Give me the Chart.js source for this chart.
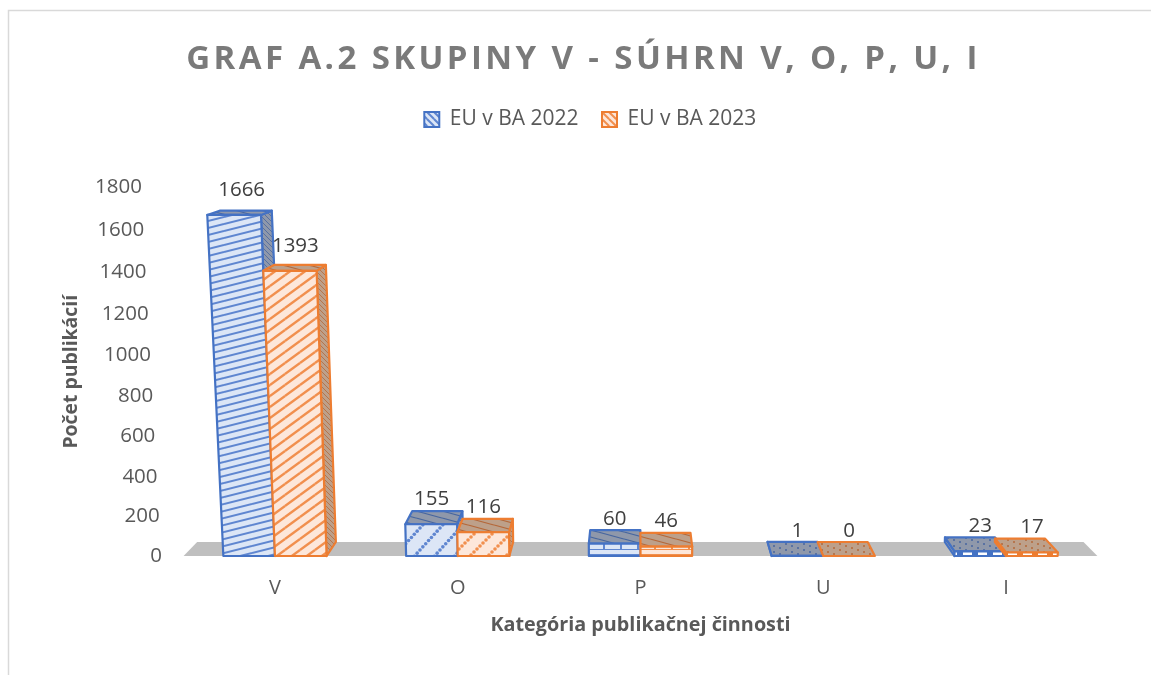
<!DOCTYPE html>
<html lang="sk">
<head>
<meta charset="utf-8">
<title>Graf A.2</title>
<script src="https://cdn.jsdelivr.net/npm/chart.js@4/dist/chart.umd.min.js"></script>
<style>html,body{margin:0;padding:0;background:#fff}canvas{display:block}</style>
</head>
<body>
<canvas id="c" width="1151" height="675"></canvas>
<script>
const categories = ['V', 'O', 'P', 'U', 'I'];
const values2022 = [1666, 155, 60, 1, 23];
const values2023 = [1393, 116, 46, 0, 17];
const seriesNames = ['EU v BA 2022', 'EU v BA 2023'];
const chartTitle = 'GRAF A.2 SKUPINY V - SÚHRN V, O, P, U, I';
const yAxisTitle = 'Počet publikácií';
const xAxisTitle = 'Kategória publikačnej činnosti';

const FONT = '"Open Sans", sans-serif';
const BLUE = '#4472C4', ORANGE = '#ED7D31';
const pal = [
  {line: BLUE, bg: '#dce6f6', fg: '#5f86d0', dark: '#8f98aa', darkFg: '#47669f'},
  {line: ORANGE, bg: '#fde7da', fg: '#f18f4e', dark: '#bda08a', darkFg: '#b5683a'}
];

function tile(w, h, bg, paint) {
  const t = document.createElement('canvas');
  t.width = w; t.height = h;
  const g = t.getContext('2d');
  g.fillStyle = bg; g.fillRect(0, 0, w, h);
  paint(g, w, h);
  return document.createElement('canvas').getContext('2d').createPattern(t, 'repeat');
}
function lines(w, h, bg, fg, lw, down) {
  return tile(w, h, bg, g => {
    g.strokeStyle = fg; g.lineWidth = lw;
    for (const ox of [-w, 0, w]) for (const oy of [-h, 0, h]) {
      g.beginPath();
      g.moveTo(ox, oy + (down ? 0 : h));
      g.lineTo(ox + w, oy + (down ? h : 0));
      g.stroke();
    }
  });
}
function dots(w, h, bg, fg, n, r, down) {
  return tile(w, h, bg, g => {
    g.fillStyle = fg;
    for (const ox of [-w, 0, w]) for (const oy of [-h, 0, h]) for (let i = 0; i < n; i++) {
      const f = i / n;
      g.beginPath();
      g.arc(ox + w * f, oy + (down ? h * f : h * (1 - f)), r, 0, 7);
      g.fill();
    }
  });
}
function brick(bg, fg) {
  return tile(17, 12, bg, g => {
    g.fillStyle = fg;
    g.fillRect(0, 2, 17, 2);
    g.fillRect(8, 4, 2, 5);
    g.fillRect(0, 9, 17, 1);
  });
}
function dash(bg, fg) {
  return tile(15, 6, fg, g => {
    g.fillStyle = '#fff';
    g.fillRect(3, 0, 9, 6);
  });
}
const fronts = pal.map((p, s) => [
  s === 0 ? lines(28, 7, p.bg, p.fg, 2, false) : lines(15, 11, p.bg, p.fg, 2.4, false),
  s === 0 ? dots(20, 22, p.bg, p.fg, 7, 1.8, false) : dots(18, 18, p.bg, p.fg, 6, 1.8, false),
  brick(p.bg, p.fg),
  brick(p.bg, p.fg),
  dash(p.bg, p.line)
]);
const tops = pal.map((p, s) => [
  lines(26, 7, p.dark, p.darkFg, 1.2, true),
  lines(26, 7, p.dark, p.darkFg, 1.2, true),
  lines(26, 7, p.dark, p.darkFg, 1.2, true),
  dots(18, 6, p.dark, p.darkFg, 3, 1, true),
  dots(18, 6, p.dark, p.darkFg, 3, 1, true)
]);
const sides = pal.map(p => lines(5, 5, p.dark, p.darkFg, 0.8, true));
const legendFills = pal.map(p => lines(7, 7, p.bg, p.fg, 2, true));

/* perspective of the 3-D view */
const lean = (x, h) => h * (x - 626) * 0.000117;
const depthX = x => (635 - x) * 0.03;
const depthY = h => 14 * (1 - h / 490);

function poly(ctx, pts, fill, stroke, lw) {
  ctx.beginPath();
  pts.forEach((p, i) => i ? ctx.lineTo(p[0], p[1]) : ctx.moveTo(p[0], p[1]));
  ctx.closePath();
  ctx.fillStyle = fill; ctx.fill();
  ctx.strokeStyle = stroke; ctx.lineWidth = lw; ctx.lineJoin = 'round';
  ctx.stroke();
}

const view3d = {
  id: 'view3d',
  beforeLayout(chart) {
    const l = chart.legend;
    if (l && !l.__fit) {
      l.__fit = true;
      const f = l.fit;
      l.fit = function () { f.call(this); this.height += 47.5; };
    }
  },
  afterLayout(chart) {
    chart.titleBlock.left = 16; chart.titleBlock.right = 1151;
    chart.legend.left = 20; chart.legend.right = 1160.5;
  },
  beforeDraw(chart) {
    const ctx = chart.ctx;
    ctx.save();
    ctx.fillStyle = '#fff'; ctx.fillRect(0, 0, chart.width, chart.height);
    ctx.strokeStyle = '#d9d9d9'; ctx.lineWidth = 1.5;
    ctx.beginPath(); ctx.moveTo(8.5, 675); ctx.lineTo(8.5, 10.5); ctx.lineTo(1151, 10.5); ctx.stroke();
    ctx.restore();
    const t = chart.titleBlock;
    if (!t.__sp) {
      t.__sp = true;
      const d = t.draw;
      t.draw = function () { ctx.letterSpacing = '3.4px'; d.apply(this, arguments); ctx.letterSpacing = '0px'; };
    }
    const ys = chart.scales.y;
    ys.getLabelItems(chart.chartArea).forEach(it => {
      const v = Number(it.label);
      it.options.translation[0] = 142 + 20 * (1 - v / 1800);
      it.options.translation[1] += 4 * Math.sin(Math.PI * v / 1800);
    });
  },
  beforeDatasetsDraw(chart) {
    const {x, y} = chart.scales, ctx = chart.ctx;
    const y0 = y.getPixelForValue(0), l = x.left, r = x.right;
    ctx.save();
    ctx.fillStyle = '#bfbfbf';
    ctx.beginPath();
    ctx.moveTo(l, y0);
    ctx.lineTo(l + depthX(l), y0 - depthY(0));
    ctx.lineTo(r + depthX(r), y0 - depthY(0));
    ctx.lineTo(r, y0);
    ctx.closePath(); ctx.fill();
    ctx.restore();
    chart.data.datasets.forEach((ds, s) => {
      const color = pal[s].line;
      chart.getDatasetMeta(s).data.forEach((el, i) => {
        const {x, y, base, width} = el.getProps(['x', 'y', 'base', 'width'], true);
        const x0 = x - width / 2, x1 = x + width / 2, h = base - y;
        const F = a => [a + lean(a, h), y];
        const B = a => [a + lean(a, h) + depthX(a), y - depthY(h)];
        const FB = a => [a, base];
        const BB = a => [a + depthX(a), base - depthY(0)];
        ctx.save();
        const edge = depthX(x1) > 0 ? x1 : x0;
        if (h > 0 && Math.abs(depthX(edge)) > 1.5) {
          poly(ctx, [F(edge), B(edge), BB(edge), FB(edge)], sides[s], color, 2.2);
        }
        poly(ctx, [F(x0), F(x1), B(x1), B(x0)], tops[s][i], color, 2.2);
        if (h > 0) poly(ctx, [FB(x0), FB(x1), F(x1), F(x0)], fronts[s][i], color, 2.2);
        ctx.restore();
      });
    });
  },
  beforeDatasetDraw() { return false; },
  afterDatasetsDraw(chart) {
    const ctx = chart.ctx;
    ctx.save();
    ctx.font = '20.5px ' + FONT;
    ctx.fillStyle = '#404040';
    ctx.textAlign = 'center'; ctx.textBaseline = 'middle';
    chart.data.datasets.forEach((ds, s) => {
      chart.getDatasetMeta(s).data.forEach((el, i) => {
        const h = el.base - el.y;
        ctx.fillText(String(ds.data[i]), el.x + lean(el.x, h) * 0.5, el.y - 25);
      });
    });
    ctx.restore();
  }
};

new Chart(document.getElementById('c'), {
  type: 'bar',
  plugins: [view3d],
  data: {
    labels: categories,
    datasets: [
      {label: seriesNames[0], data: values2022, backgroundColor: legendFills[0], borderColor: BLUE, borderWidth: 2},
      {label: seriesNames[1], data: values2023, backgroundColor: legendFills[1], borderColor: ORANGE, borderWidth: 2}
    ]
  },
  options: {
    responsive: false,
    animation: false,
    events: [],
    layout: {padding: {left: 0, right: 53.6, top: 0, bottom: 0}},
    datasets: {bar: {categoryPercentage: 0.565, barPercentage: 1}},
    plugins: {
      tooltip: {enabled: false},
      title: {
        display: true, text: chartTitle, color: '#7a7a7a',
        font: {family: FONT, size: 33, weight: 'bold', lineHeight: 1.2},
        padding: {top: 40.2, bottom: 5.7}
      },
      legend: {
        display: true, position: 'top',
        labels: {color: '#595959', font: {family: FONT, size: 21}, boxWidth: 15, boxHeight: 15, padding: 23.5}
      }
    },
    scales: {
      x: {
        grid: {display: false}, border: {display: false},
        ticks: {color: '#595959', font: {family: FONT, size: 20}, padding: 12, maxRotation: 0},
        title: {display: true, text: xAxisTitle, color: '#595959', font: {family: FONT, size: 19.8, weight: 'bold', lineHeight: 1.2}, padding: {top: 4, bottom: 38}},
        afterFit(s) { s.height = 119; }
      },
      y: {
        min: 0, max: 1800,
        grid: {display: false}, border: {display: false},
        ticks: {stepSize: 200, color: '#595959', font: {family: FONT, size: 20.5}, callback: v => String(v)},
        title: {display: true, text: yAxisTitle, color: '#595959', font: {family: FONT, size: 19.4, weight: 'bold', lineHeight: 1.2}, padding: {top: 60, bottom: 0}},
        afterFit(s) { s.width = 183.6; }
      }
    }
  }
});
</script>
</body>
</html>
